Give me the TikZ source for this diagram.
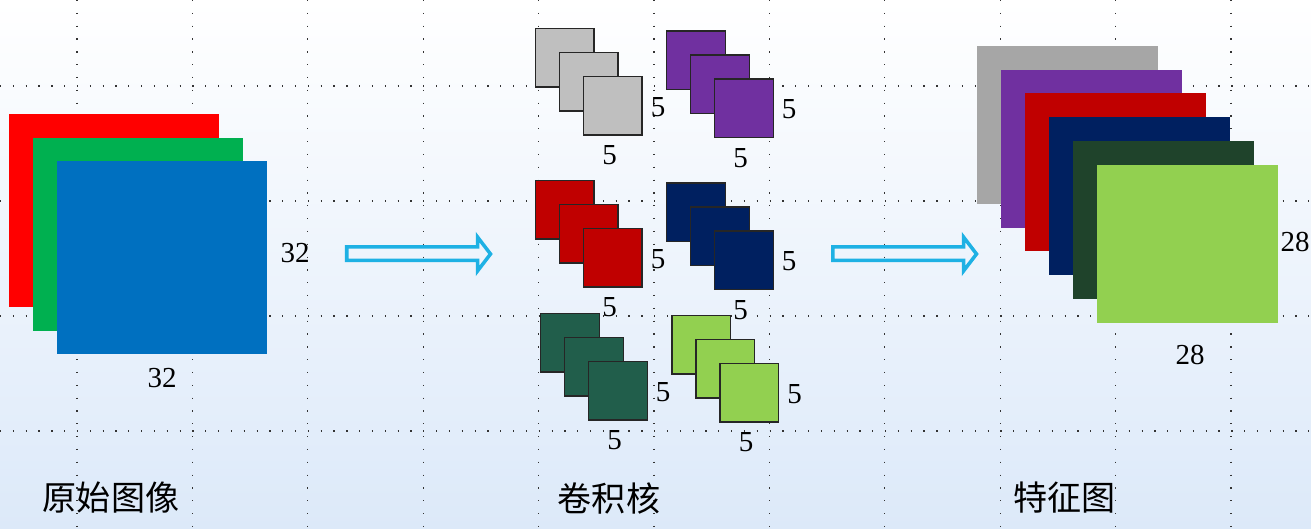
\documentclass[tikz,border=0pt]{standalone}
\usepackage{fontspec}
\setmainfont{Liberation Serif}
\newfontfamily\cjk{Noto Sans CJK SC}
\usetikzlibrary{calc}

\definecolor{imgRed}{HTML}{FF0000}
\definecolor{imgGreen}{HTML}{00B050}
\definecolor{imgBlue}{HTML}{0070C0}
\definecolor{kGray}{HTML}{BFBFBF}
\definecolor{kPurple}{HTML}{7030A0}
\definecolor{kRed}{HTML}{C00000}
\definecolor{kNavy}{HTML}{002060}
\definecolor{kDkGreen}{HTML}{215E4B}
\definecolor{kLtGreen}{HTML}{92D050}
\definecolor{fGray}{HTML}{A6A6A6}
\definecolor{fDkGreen}{HTML}{1F432B}
\definecolor{arrowBlue}{HTML}{1EB1E4}
\definecolor{bgBottom}{HTML}{DCE9F9}
\definecolor{bgMid}{HTML}{F5F9FE}

\begin{document}
\begin{tikzpicture}[x=.02cm,y=-.02cm,
  num/.style={font=\fontsize{16.5}{18}\selectfont,inner sep=0pt},
  title/.style={font=\cjk\fontsize{19.4}{22}\selectfont,inner sep=0pt},
  kern/.style={draw=black!85,line width=.8pt},
  griddot/.style={black!80,line width=.7pt,dash pattern=on .7pt off 6.6pt},
  blockarrow/.style={draw=arrowBlue,line width=2pt}]
\useasboundingbox (0,0) rectangle (1311,528);
\shade[top color=white,middle color=bgMid,bottom color=bgBottom] (0,0) rectangle (1311,528);
% grid
\foreach \gx in {0,...,10} \draw[griddot] (77+115.4*\gx,0) -- +(0,528);
\foreach \gy in {0,...,3} \draw[griddot] (0,86+115*\gy) -- +(1311,0);
% input image
\fill[imgRed] (9,114) rectangle +(210,193);
\fill[imgGreen] (33,137.5) rectangle +(210,193);
\fill[imgBlue] (57,161) rectangle +(210,193) coordinate (inBR);
\node[num] (in-r) at (295,253) {32};
\node[num] (in-b) at (162,378) {32};
\node[title] (in-t) at (111,498) {原始图像};
% arrows
\coordinate (a1) at (346.75,246.75);
\coordinate (a2) at (832.75,246.75);
\draw[blockarrow] (a1) -- ++(130.75,0) -- ++(0,-9.75) -- ++(13,17) -- ++(-13,17) -- ++(0,-10.75) -- ++(-130.75,0) -- cycle;
\draw[blockarrow] (a2) -- ++(130.75,0) -- ++(0,-9.75) -- ++(13,17) -- ++(-13,17) -- ++(0,-10.75) -- ++(-130.75,0) -- cycle;
% kernels
\foreach \nm/\x/\y/\c in {gray/535.5/28.5/kGray, purple/666.7/31/kPurple, red/535.5/180.5/kRed,
    navy/666.7/183/kNavy, dgreen/540.7/313.3/kDkGreen, lgreen/672/315.5/kLtGreen}{
  \foreach \i in {0,1,2}
    \filldraw[kern,fill=\c] (\x+24*\i,\y+24*\i) rectangle +(58.5,58.5);
  \node[num] (\nm-r) at (\x+122.5,\y+78.5) {5};
  \node[num] (\nm-b) at (\x+74,\y+127) {5};
}
\node[title] (k-t) at (609,498) {卷积核};
% feature maps
\fill[fGray] (977.3,46) rectangle +(181,158);
\fill[kPurple] (1001.3,69.7) rectangle +(181,158);
\fill[kRed] (1025.3,93.4) rectangle +(181,158);
\fill[kNavy] (1049.3,117.1) rectangle +(181,158);
\fill[fDkGreen] (1073.3,140.8) rectangle +(181,158);
\fill[kLtGreen] (1097.3,164.5) rectangle +(181,158);
\node[num] (f-r) at (1295,242) {28};
\node[num] (f-b) at (1190,355) {28};
\node[title] (f-t) at (1064.5,498) {特征图};
\end{tikzpicture}
\end{document}
